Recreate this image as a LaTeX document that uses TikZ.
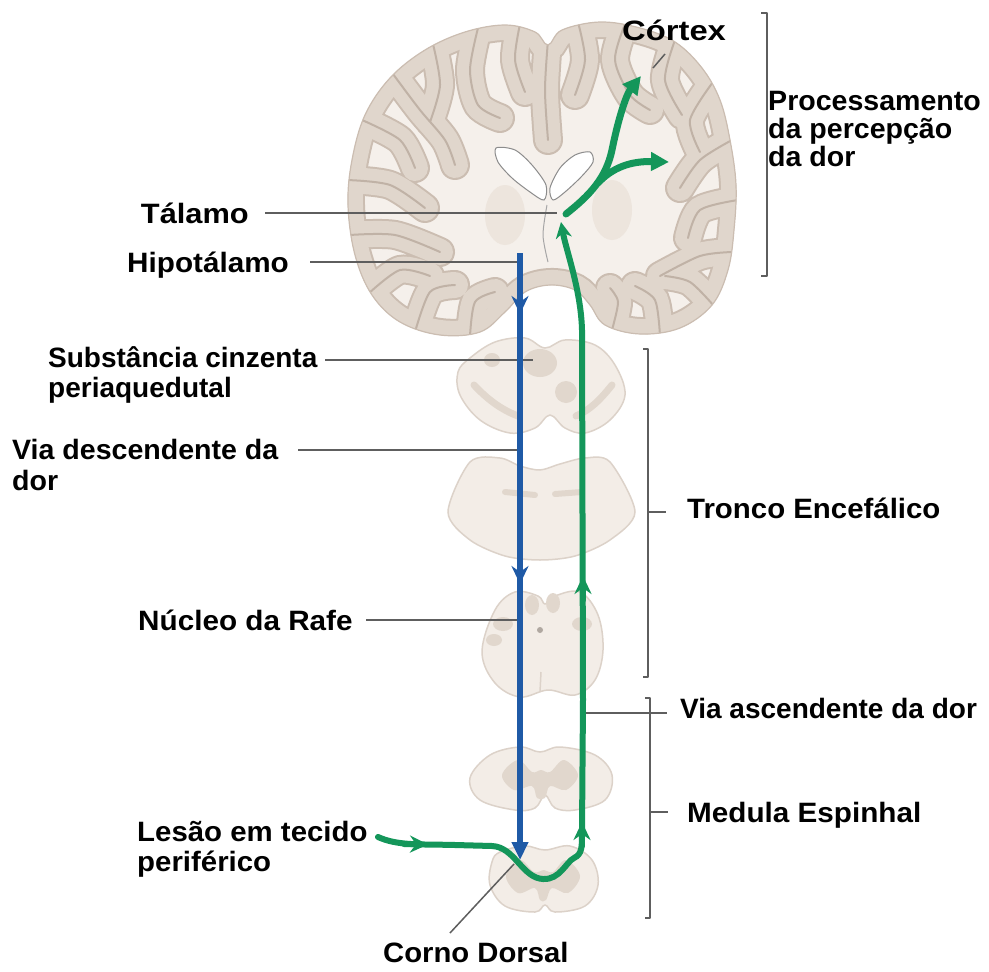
\documentclass[tikz,border=0pt]{standalone}
\usepackage{graphicx}
\usepackage{fontspec}
\setmainfont{Liberation Sans}
\usetikzlibrary{arrows.meta}

\definecolor{wm}{HTML}{F5F0EB}
\definecolor{gm}{HTML}{E0D6CC}
\definecolor{gmedge}{HTML}{CBBDB1}
\definecolor{sulcus}{HTML}{C0B2A6}
\definecolor{pale}{HTML}{F3EDE7}
\definecolor{paleedge}{HTML}{DCD2C9}
\definecolor{blob}{HTML}{E1D7CD}
\definecolor{basal}{HTML}{EDE5DD}
\definecolor{bluepath}{HTML}{1F5AA6}
\definecolor{greenpath}{HTML}{14965A}
\definecolor{leader}{HTML}{5E5E5E}

% horizontally stretched label text
\newcommand\sx[2]{\scalebox{#1}[1]{#2}}

% outer silhouette of the coronal brain section
\newcommand\brainsil{plot[smooth cycle, tension=0.6] coordinates {
  (548,45) (562,30) (600,22) (640,28) (675,42) (702,68) (720,100) (730,140)
  (736,185) (734,230) (728,270) (712,305) (680,328) (640,334) (605,325) (590,305)
  (575,290) (550,285) (525,292) (505,312) (480,332) (440,335) (400,322) (372,295)
  (355,255) (348,205) (352,160) (365,115) (390,78) (425,50) (465,32) (505,25) (535,32)}}

% sulci running inward from the surface
\newcommand\sulcuspaths{
  plot[smooth] coordinates {(548,40) (545,90) (548,140)}
  plot[smooth] coordinates {(520,24) (515,60) (525,92)}
  plot[smooth] coordinates {(478,28) (470,70) (478,105) (500,118)}
  plot[smooth] coordinates {(433,44) (440,85) (430,122)}
  plot[smooth] coordinates {(393,74) (420,110) (445,140) (455,165)}
  plot[smooth] coordinates {(362,120) (400,140) (415,168)}
  plot[smooth] coordinates {(347,180) (390,185) (425,208)}
  plot[smooth] coordinates {(350,235) (395,235) (440,252)}
  plot[smooth] coordinates {(368,294) (400,270) (430,276)}
  plot[smooth] coordinates {(415,332) (430,292) (455,285)}
  plot[smooth] coordinates {(470,336) (475,302) (495,292)}
  plot[smooth] coordinates {(578,22) (585,60) (575,95)}
  plot[smooth] coordinates {(625,24) (615,60) (630,95) (650,110)}
  plot[smooth] coordinates {(675,40) (665,80) (682,115)}
  plot[smooth] coordinates {(713,82) (690,120) (700,152)}
  plot[smooth] coordinates {(732,140) (700,160) (680,188)}
  plot[smooth] coordinates {(738,200) (700,210) (688,238)}
  plot[smooth] coordinates {(732,252) (700,256) (660,276)}
  plot[smooth] coordinates {(714,306) (690,282) (665,276)}
  plot[smooth] coordinates {(660,336) (655,300) (635,286)}
  plot[smooth] coordinates {(612,330) (618,302) (610,288)}
}

\tikzset{
  lbl/.style={font=\fontsize{28}{31}\selectfont\bfseries, text=black, inner sep=0pt},
  ldr/.style={draw=leader, line width=2pt},
  brk/.style={draw=leader, line width=2pt, line join=round},
  sect/.style={fill=pale, draw=paleedge, line width=1.5pt},
  vent/.style={fill=white, draw=black!45, line width=1pt},
  bpath/.style={draw=bluepath, line width=6pt},
  gpath/.style={draw=greenpath, line width=6pt, line cap=round},
  midtip/.style={-{Stealth[length=18pt,width=17pt,inset=6pt]}},
}

\begin{document}
\begin{tikzpicture}[x=1pt,y=-1pt]
\useasboundingbox (0,0) rectangle (989,972);
\fill[white] (0,0) rectangle (989,972);

% ---------- brain (coronal section) ----------
\fill[wm] \brainsil;
\begin{scope}
  \clip \brainsil;
  \fill[basal] (505,215) ellipse (20 and 30);
  \fill[basal] (612,210) ellipse (20 and 30);
  \draw[line width=34pt, gmedge] \brainsil;
  \draw[line width=30pt, gmedge, line cap=round] \sulcuspaths;
  \draw[line width=30pt, gm] \brainsil;
  \draw[line width=26pt, gm, line cap=round] \sulcuspaths;
  \draw[line width=2pt, sulcus, line cap=round] \sulcuspaths;
\end{scope}
\draw[line width=1.2pt, gmedge] \brainsil;

% lateral ventricles and third ventricle
\draw[vent] plot[smooth cycle, tension=0.5] coordinates {(496,148) (515,150) (532,165) (546,185) (544,200) (530,192) (512,178) (498,162)};
\draw[vent] plot[smooth cycle, tension=0.5] coordinates {(590,152) (575,155) (560,168) (550,188) (553,200) (565,192) (582,176) (593,162)};
\draw[black!35, line width=1pt] plot[smooth] coordinates {(547,205) (543,235) (548,262)};

% ---------- brainstem sections ----------
% midbrain
\draw[sect] plot[smooth cycle, tension=0.6] coordinates {
  (470,358) (495,342) (525,338) (545,348) (565,340) (595,345) (615,365) (625,395)
  (610,420) (585,433) (565,428) (550,415) (535,428) (510,433) (480,420) (460,395) (458,372)};
\fill[blob] (540,363) ellipse (17 and 14);
\fill[blob] (566,392) circle (11);
\fill[blob] (492,360) ellipse (8 and 7);
\draw[blob, line width=7pt, line cap=round] (474,385) .. controls (488,400) and (502,410) .. (518,416);
\draw[blob, line width=7pt, line cap=round] (612,385) .. controls (600,400) and (590,410) .. (576,416);

% pons
\draw[sect] plot[smooth cycle, tension=0.5] coordinates {
  (470,462) (500,458) (520,466) (540,470) (560,464) (585,458) (610,462) (635,512)
  (610,540) (575,556) (540,560) (505,556) (470,540) (448,512)};
\draw[blob, line width=6pt, line cap=round] (505,492) -- (535,495);
\draw[blob, line width=6pt, line cap=round] (555,494) -- (582,492);

% medulla
\draw[sect] plot[smooth cycle, tension=0.6] coordinates {
  (495,610) (515,592) (538,596) (545,604) (555,596) (580,592) (598,615) (603,650)
  (595,680) (575,695) (548,690) (520,697) (495,683) (482,652)};
\fill[blob] (532,605) ellipse (7 and 10);
\fill[blob] (553,603) ellipse (7 and 10);
\fill[blob] (503,624) ellipse (10 and 7);
\fill[blob] (582,624) ellipse (10 and 7);
\fill[blob] (494,640) ellipse (8 and 6);
\fill[paleedge!80!black] (540,630) circle (3);
\draw[paleedge, line width=1.5pt] (541,672) -- (540,692);

% upper spinal segment
\draw[sect] plot[smooth cycle, tension=0.6] coordinates {
  (490,755) (520,747) (540,752) (560,747) (595,755) (612,775) (605,800) (575,810)
  (555,808) (545,795) (535,808) (515,810) (480,800) (470,778)};
\fill[blob] plot[smooth cycle, tension=0.6] coordinates {
  (518,760) (532,772) (541,770) (550,772) (564,760) (578,775) (566,790) (550,786)
  (545,798) (537,798) (532,786) (514,790) (502,775)};

% lower spinal segment (dorsal horn level)
\draw[sect] plot[smooth cycle, tension=0.6] coordinates {
  (500,852) (525,846) (545,850) (570,846) (592,860) (598,885) (585,906) (555,912)
  (545,905) (535,912) (505,906) (490,885) (492,862)};
\fill[blob] plot[smooth cycle, tension=0.6] coordinates {
  (520,860) (534,872) (544,870) (553,872) (566,860) (580,876) (568,893) (552,888)
  (546,900) (540,900) (535,888) (518,893) (506,876)};

% ---------- anchor points on the pathways ----------
\coordinate (bTop) at (520,253);
\coordinate (bEnd) at (520,860);
\coordinate (gStart) at (378,837);
\coordinate (gJoin) at (561,222);
\coordinate (gFork) at (566,214);
\coordinate (gSplit) at (598,183);
\coordinate (gTipA) at (641,76);
\coordinate (gTipB) at (669,162);

\coordinate (talL) at (265,213);  \coordinate (talP) at (557,213);
\coordinate (hipL) at (310,262);  \coordinate (hipP) at (518,262);
\coordinate (subL) at (325,360);  \coordinate (subP) at (533,360);
\coordinate (viaL) at (298,450);  \coordinate (viaP) at (520,450);
\coordinate (rafL) at (366,620);  \coordinate (rafP) at (517,620);
\coordinate (ascP) at (585,713);  \coordinate (ascR) at (667,713);
\coordinate (corL) at (450,933);  \coordinate (corP) at (514,864);
\coordinate (ctxA) at (653,68);   \coordinate (ctxB) at (665,54);

% ---------- leader lines ----------
\draw[ldr] (talL) -- (talP);
\draw[ldr] (hipL) -- (hipP);
\draw[ldr] (subL) -- (subP);
\draw[ldr] (viaL) -- (viaP);
\draw[ldr] (rafL) -- (rafP);
\draw[ldr] (ascP) -- (ascR);
\draw[ldr, line width=1.5pt] (corL) -- (corP);
\draw[ldr, line width=1.5pt] (ctxA) -- (ctxB);

% ---------- brackets ----------
\draw[brk] (761,13) -- (767,13) -- (767,276) -- (761,276);
\draw[brk] (643,349) -- (648,349) -- (648,677) -- (643,677);
\draw[brk] (648,512) -- (666,512);
\draw[brk] (645,698) -- (650,698) -- (650,918) -- (645,918);
\draw[brk] (650,812) -- (668,812);

% ---------- descending pathway (blue) ----------
\draw[bpath, -{Triangle[length=18pt,width=16pt]}] (bTop) -- (bEnd);
\draw[bpath, midtip] (520,292) -- (520,314);
\draw[bpath, midtip] (520,562) -- (520,584);

% ---------- ascending pathway (green) ----------
\draw[gpath, -{Stealth[length=16pt,width=16pt,inset=5pt]}] (gStart)
  .. controls (398,846) and (420,844) .. (455,845) -- (492,846)
  .. controls (515,847) and (522,878) .. (543,879)
  .. controls (560,880) and (566,862) .. (574,858)
  .. controls (582,854) and (582,848) .. (582,832)
  -- (583,700) -- (582,330)
  .. controls (581,290) and (566,250) .. (gJoin);
\draw[gpath, midtip] (404,844) -- (428,844.5);
\draw[gpath, midtip] (582,846) -- (582,822);
\draw[gpath, midtip] (583,600) -- (583,576);
\draw[gpath, line width=7pt, -{Triangle[length=18pt,width=18pt]}] (gFork)
  .. controls (590,195) and (606,178) .. (612,150)
  .. controls (618,120) and (626,95) .. (gTipA);
\draw[gpath, line width=7pt, -{Triangle[length=18pt,width=18pt]}] (gSplit)
  .. controls (612,168) and (630,161) .. (gTipB);

% ---------- labels ----------
\node[lbl, anchor=base west] (lblCtx) at (622,40) {\sx{1.17}{Córtex}};
\node[lbl, anchor=base west] (lblProcA) at (768,110) {\sx{1.02}{Processamento}};
\node[lbl, anchor=base west] (lblProcB) at (768,138) {\sx{1.02}{da percepção}};
\node[lbl, anchor=base west] (lblProcC) at (768,166) {\sx{1.02}{da dor}};
\node[lbl, anchor=base east] (lblTal) at (249,223) {\sx{1.1}{Tálamo}};
\node[lbl, anchor=base east] (lblHip) at (289,272) {\sx{1.06}{Hipotálamo}};
\node[lbl, anchor=base west] (lblSubA) at (48,367) {Substância cinzenta};
\node[lbl, anchor=base west] (lblSubB) at (48,397) {periaquedutal};
\node[lbl, anchor=base west] (lblViaA) at (12,459) {\sx{1.02}{Via descendente da}};
\node[lbl, anchor=base west] (lblViaB) at (12,490) {\sx{1.02}{dor}};
\node[lbl, anchor=base west] (lblRaf) at (138,630) {\sx{1.06}{Núcleo da Rafe}};
\node[lbl, anchor=base west] (lblAsc) at (680,718) {Via ascendente da dor};
\node[lbl, anchor=base west] (lblTronco) at (687,518) {\sx{1.05}{Tronco Encefálico}};
\node[lbl, anchor=base west] (lblMed) at (687,822) {\sx{1.06}{Medula Espinhal}};
\node[lbl, anchor=base west] (lblLesA) at (137,841) {\sx{1.05}{Lesão em tecido}};
\node[lbl, anchor=base west] (lblLesB) at (137,871) {\sx{1.05}{periférico}};
\node[lbl, anchor=base west] (lblCorno) at (383,962) {\sx{1.045}{Corno Dorsal}};
\end{tikzpicture}
\end{document}
